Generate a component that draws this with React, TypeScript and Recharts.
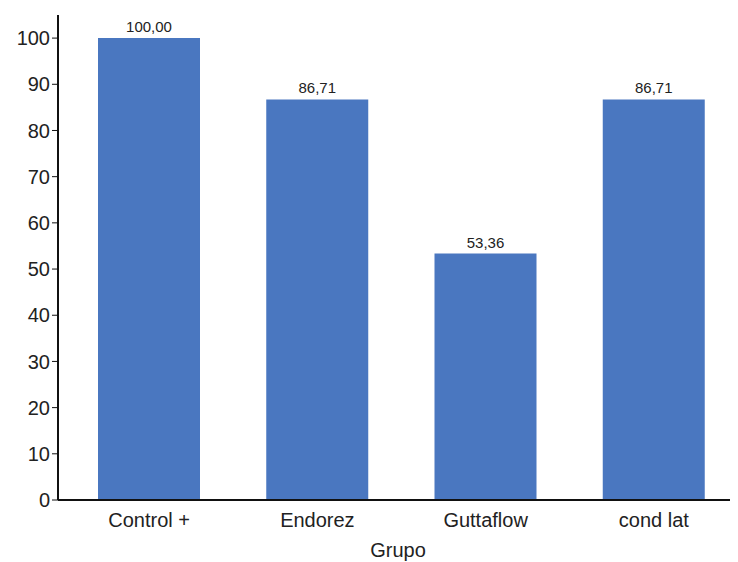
import { BarChart, Bar, XAxis, YAxis, LabelList } from "recharts";

const groups = ["Control +", "Endorez", "Guttaflow", "cond lat"];
const values = [100.0, 86.71, 53.36, 86.71];
const yTicks = [0, 10, 20, 30, 40, 50, 60, 70, 80, 90, 100];

const data = groups.map((g, i) => ({ grupo: g, valor: values[i] }));

const FONT = "'Liberation Sans', Arial, sans-serif";

export default function App() {
  return (
    <div style={{ fontFamily: FONT }}>
      <BarChart
        width={730}
        height={554}
        data={data}
        margin={{ top: 7, right: 0, bottom: 0, left: 0 }}
        barCategoryGap={33}
      >
        <XAxis
          dataKey="grupo"
          height={62}
          padding={{ left: 7, right: 0 }}
          tickLine={false}
          tickSize={0}
          tickMargin={13}
          axisLine={{ stroke: "#111", strokeWidth: 2 }}
          tick={{ fill: "#222", fontSize: 20, fontFamily: FONT }}
          label={{
            value: "Grupo",
            position: "insideBottom",
            offset: 5,
            fill: "#222",
            fontSize: 20,
            fontFamily: FONT,
          }}
        />
        <YAxis
          width={50}
          domain={[0, 105]}
          ticks={yTicks}
          interval={0}
          tickSize={6}
          tickMargin={2}
          axisLine={{ stroke: "#111", strokeWidth: 2 }}
          tickLine={{ stroke: "#111" }}
          tick={{ fill: "#222", fontSize: 20, fontFamily: FONT }}
        />
        <Bar dataKey="valor" fill="#4a77c0" isAnimationActive={false}>
          <LabelList
            dataKey="valor"
            position="top"
            offset={6}
            fill="#222"
            fontSize={15}
            fontFamily={FONT}
            formatter={(v: number) => v.toFixed(2).replace(".", ",")}
          />
        </Bar>
      </BarChart>
    </div>
  );
}
